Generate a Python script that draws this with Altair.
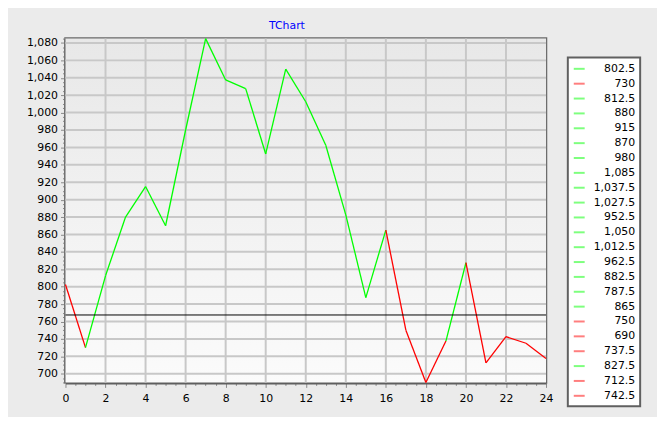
import altair as alt
import pandas as pd

# ---- data ----
x_vals = list(range(25))
values = [802.5, 730, 812.5, 880, 915, 870, 980, 1085, 1037.5, 1027.5, 952.5,
          1050, 1012.5, 962.5, 882.5, 787.5, 865, 750, 690, 737.5, 827.5,
          712.5, 742.5, 735, 717.5]
point_colors = ["g", "r", "g", "g", "g", "g", "g", "g", "g", "g", "g",
                "g", "g", "g", "g", "g", "g", "r", "r", "r", "g",
                "r", "r", "r", "r"]
ref_level = [767.5]
legend_shown = 23
title_text = "TChart"
x_range = [0, 24]
y_range = [690, 1085]
y_ticks = list(range(690, 1086, 5))
x_ticks = [i / 2 for i in range(49)]
y_grid = list(range(700, 1081, 20))
x_grid = list(range(2, 24, 2))

GREEN = "#00ff00"
RED = "#ff0000"
FONT = "DejaVu Sans"


def fmt(v):
    s = f"{v:,.1f}"
    return s[:-2] if s.endswith(".0") else s


labels = [fmt(v) for v in values]
colors = [GREEN if c == "g" else RED for c in point_colors]

seg = pd.DataFrame({
    "x0": x_vals[:-1], "y0": values[:-1],
    "x1": x_vals[1:], "y1": values[1:],
    "key": labels[1:],
})

xscale = alt.Scale(domain=x_range, nice=False, zero=False)
yscale = alt.Scale(domain=y_range, nice=False, zero=False)

major_y = "datum.value % 20 === 0"
major_x = "datum.value % 2 === 0"

yaxis = alt.Axis(
    title=None, values=y_ticks, format=",.0f", grid=False,
    labelExpr=f"{major_y} ? datum.label : ''", labelOverlap=False,
    labelFont=FONT, labelFontSize=11, labelColor="#000000", labelPadding=3,
    tickColor="#8a8a8a", tickWidth=1,
    tickSize={"condition": {"test": major_y, "value": 5}, "value": 3},
    domainColor="#5e5e5e", domainWidth=3,
)
xaxis = alt.Axis(
    title=None, values=x_ticks, format=".0f", grid=False,
    labelExpr=f"{major_x} ? datum.label : ''", labelOverlap=False,
    labelFont=FONT, labelFontSize=11, labelColor="#000000", labelPadding=5,
    labelFlush=False,
    tickColor="#8a8a8a", tickWidth=1,
    tickSize={"condition": {"test": major_x, "value": 5}, "value": 3},
    domainColor="#5e5e5e", domainWidth=3,
)

gradient = alt.LinearGradient(
    gradient="linear", x1=0, y1=0, x2=0, y2=1,
    stops=[alt.GradientStop(offset=0, color="#e8e8e8"),
           alt.GradientStop(offset=1, color="#fbfbfb")],
)

bg = alt.Chart(pd.DataFrame({"xa": [x_range[0]], "xb": [x_range[1]],
                             "ya": [y_range[0]], "yb": [y_range[1]]})
               ).mark_rect(color=gradient).encode(
    x=alt.X("xa:Q", scale=xscale, axis=xaxis),
    x2="xb:Q",
    y=alt.Y("ya:Q", scale=yscale, axis=yaxis),
    y2="yb:Q",
)

ygrid = alt.Chart(pd.DataFrame({"g": y_grid})).mark_rule(
    color="#c8c8c8", strokeWidth=2).encode(
    y=alt.Y("g:Q", scale=yscale, axis=yaxis))
xgrid = alt.Chart(pd.DataFrame({"g": x_grid})).mark_rule(
    color="#c8c8c8", strokeWidth=2).encode(
    x=alt.X("g:Q", scale=xscale, axis=xaxis))

lines = alt.Chart(seg).mark_rule(strokeWidth=1.3).encode(
    x=alt.X("x0:Q", scale=xscale, axis=xaxis),
    y=alt.Y("y0:Q", scale=yscale, axis=yaxis),
    x2="x1:Q",
    y2="y1:Q",
    color=alt.Color(
        "key:N",
        scale=alt.Scale(domain=labels, range=colors),
        legend=alt.Legend(
            title=None, orient="none", legendX=507, legendY=19,
            values=labels[:legend_shown],
            symbolType="stroke", symbolStrokeWidth=2, symbolSize=121,
            symbolOpacity=0.5,
            labelAlign="right", labelOffset=50, labelFont=FONT,
            labelFontSize=11, labelColor="#000000", labelLimit=200,
            fillColor="#ffffff", strokeColor="#606060",
            padding=5, rowPadding=3,
        ),
    ),
)

hline = alt.Chart(pd.DataFrame({"level": ref_level})).mark_rule(
    color="#000000", strokeWidth=1
).encode(y=alt.Y("level:Q", scale=yscale, axis=yaxis))

chart = alt.layer(bg, ygrid, xgrid, lines, hline).properties(
    width=485, height=347,
    autosize=alt.AutoSizeParams(type="none"),
    padding={"left": 58, "top": 29, "right": 112, "bottom": 33},
    title=alt.TitleParams(
        title_text, color="#0000ff", font=FONT, fontSize=11,
        fontWeight="normal", anchor="middle", dx=-19, dy=4, offset=6,
    ),
).configure(
    background="#ebebeb",
).configure_view(
    stroke="#6a6a6a", strokeWidth=2.5,
).configure_legend(strokeWidth=2)

chart.save("out.html", embed_options={"renderer": "svg", "actions": False})
